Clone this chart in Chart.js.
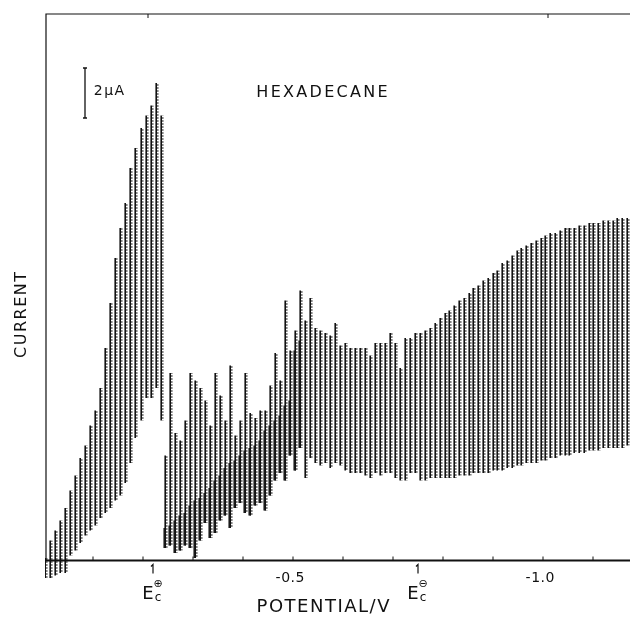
<!DOCTYPE html>
<html>
<head>
<meta charset="utf-8">
<script src="https://cdn.jsdelivr.net/npm/chart.js@4.4.1/dist/chart.umd.min.js"></script>
<style>
  html, body { margin: 0; padding: 0; background: #fff; }
  #wrap { width: 630px; height: 617px; position: relative; }
</style>
</head>
<body>
<div id="wrap"><canvas id="polarogram"></canvas></div>
<script>
// potential at each mercury drop (V)
const potentials = [
  -0.006, -0.016, -0.026, -0.036, -0.046, -0.056, -0.066, -0.076, -0.086, -0.096,
  -0.106, -0.116, -0.126, -0.136, -0.146, -0.156, -0.166, -0.176, -0.186, -0.198,
  -0.208, -0.218, -0.228, -0.238,
  -0.246, -0.256, -0.266, -0.276, -0.286, -0.296, -0.306, -0.316, -0.326, -0.336,
  -0.346, -0.356, -0.366, -0.376, -0.386, -0.396, -0.406, -0.416, -0.426, -0.436,
  -0.446, -0.456, -0.466, -0.476, -0.486, -0.496, -0.506, -0.516, -0.526, -0.536,
  -0.546, -0.556, -0.566, -0.576, -0.586, -0.596, -0.606, -0.616, -0.626, -0.636,
  -0.646, -0.656, -0.666, -0.676, -0.686, -0.696, -0.706, -0.716, -0.726, -0.736,
  -0.746,
  -0.756, -0.766, -0.776, -0.786, -0.796, -0.806, -0.814, -0.824, -0.834, -0.844,
  -0.854, -0.862, -0.872, -0.882, -0.892, -0.902, -0.910, -0.920, -0.930, -0.940,
  -0.950, -0.958, -0.968, -0.978, -0.988, -0.998, -1.006, -1.016, -1.026, -1.036,
  -1.046, -1.054, -1.064, -1.074, -1.084, -1.094, -1.102, -1.112, -1.122, -1.132,
  -1.142, -1.150, -1.160, -1.170
];

// lowest current of each drop oscillation (µA)
const currentLow = [
  -0.7, -0.7, -0.6, -0.5, -0.5, 0.2, 0.4, 0.7, 1.0, 1.2,
  1.4, 1.7, 1.9, 2.1, 2.4, 2.6, 3.1, 3.9, 4.9, 5.6,
  6.5, 6.5, 6.9, 5.6,
  0.5, 0.6, 0.3, 0.4, 0.6, 0.5, 0.1, 0.8, 1.5, 0.9,
  1.1, 1.6, 1.8, 1.3, 2.1, 2.3, 1.9, 1.8, 2.2, 2.3,
  2.0, 2.6, 3.2, 3.5, 3.2, 4.2, 3.6, 4.5, 3.3, 4.1,
  3.9, 3.8, 3.9, 3.7, 3.9, 3.8, 3.6, 3.5, 3.5, 3.5,
  3.4, 3.3, 3.5, 3.4, 3.5, 3.5, 3.3, 3.2, 3.2, 3.5,
  3.5,
  3.2, 3.2, 3.3, 3.3, 3.3, 3.3, 3.3, 3.3, 3.4, 3.4,
  3.4, 3.5, 3.5, 3.5, 3.5, 3.6, 3.6, 3.6, 3.7, 3.7,
  3.8, 3.8, 3.9, 3.9, 3.9, 4.0, 4.0, 4.1, 4.1, 4.2,
  4.2, 4.2, 4.3, 4.3, 4.3, 4.4, 4.4, 4.4, 4.5, 4.5,
  4.5, 4.5, 4.5, 4.6
];

// highest current of each drop oscillation (µA)
const currentHigh = [
  0.1, 0.8, 1.2, 1.6, 2.1, 2.8, 3.4, 4.1, 4.6, 5.4,
  6.0, 6.9, 8.5, 10.3, 12.1, 13.3, 14.3, 15.7, 16.5, 17.3,
  17.8, 18.2, 19.1, 17.8,
  4.2, 7.5, 5.1, 4.8, 5.6, 7.5, 7.2, 6.9, 6.4, 5.4,
  7.5, 6.6, 5.6, 7.8, 5.0, 5.6, 7.5, 5.9, 5.7, 6.0,
  6.0, 7.0, 8.3, 7.2, 10.4, 8.4, 9.2, 10.8, 9.6, 10.5,
  9.3, 9.2, 9.1, 9.0, 9.5, 8.6, 8.7, 8.5, 8.5, 8.5,
  8.5, 8.2, 8.7, 8.7, 8.7, 9.1, 8.7, 7.7, 8.9, 8.9,
  9.1,
  9.1, 9.2, 9.3, 9.5, 9.7, 9.9, 10.0, 10.2, 10.4, 10.5,
  10.7, 10.9, 11.0, 11.2, 11.3, 11.5, 11.6, 11.9, 12.0, 12.2,
  12.4, 12.5, 12.6, 12.7, 12.8, 12.9, 13.0, 13.1, 13.1, 13.2,
  13.3, 13.3, 13.3, 13.4, 13.4, 13.5, 13.5, 13.5, 13.6, 13.6,
  13.6, 13.7, 13.7, 13.7
];

// top of the noisy, heavily inked part of the drops between E_c+ and -0.52 V (µA)
const noisyPotentials = [
  -0.246, -0.256, -0.266, -0.276, -0.286, -0.296, -0.306, -0.316, -0.326, -0.336,
  -0.346, -0.356, -0.366, -0.376, -0.386, -0.396, -0.406, -0.416, -0.426, -0.436,
  -0.446, -0.456, -0.466, -0.476, -0.486, -0.496, -0.506, -0.516
];
const noisyTop = [
  1.3, 1.4, 1.6, 1.8, 1.9, 2.2, 2.4, 2.5, 2.7, 2.9,
  3.2, 3.4, 3.7, 3.9, 4.0, 4.2, 4.4, 4.5, 4.6, 4.8,
  5.2, 5.4, 5.6, 5.8, 6.2, 6.4, 8.4, 8.8
];

// potential axis: small ticks every 0.1 V, only two of them labelled
const tickPotentials = [-0.1, -0.2, -0.3, -0.4, -0.5, -0.6, -0.7, -0.8, -0.9, -1.0, -1.1];
const labelPotentials = [-0.5, -1.0];
const labelTexts = ['-0.5', '-1.0'];
const topTickPotentials = [-0.21, -1.01];

// electrocapillary potentials marked under the axis
const ecPotentials = [-0.22, -0.75];
const ecSigns = ['\u2295', '\u2296'];

// 2 µA calibration bar
const scaleBarPotential = -0.084;
const scaleBarTop = 19.7;
const scaleBarSize = 2;

const FONT = "'DejaVu Sans', sans-serif";

function drawText(ctx, text, cx, cy, size, spacing) {
    ctx.font = size + 'px ' + FONT;
    ctx.letterSpacing = spacing + 'px';
    const w = ctx.measureText(text).width - spacing;
    ctx.fillText(text, cx - w / 2, cy);
}

// dotted grey fill for the fast (faint) pen strokes
function dottedPattern() {
    const c = document.createElement('canvas');
    c.width = 2;
    c.height = 3;
    const g = c.getContext('2d');
    g.fillStyle = 'rgba(0, 0, 0, 0.5)';
    g.fillRect(0, 0, 2, 2);
    return g.createPattern(c, 'repeat');
}

// axes, ticks and lettering drawn on top of the drop traces
const framePlugin = {
    id: 'frame',
    afterDatasetsDraw(chart) {
        const { ctx, chartArea, scales: { x, y } } = chart;
        const y0 = y.getPixelForValue(0);
        const left = chartArea.left + 1;

        ctx.save();
        ctx.strokeStyle = '#111';
        ctx.fillStyle = '#111';
        ctx.textBaseline = 'middle';
        ctx.textAlign = 'left';

        // left and top border
        ctx.lineWidth = 1.2;
        ctx.beginPath();
        ctx.moveTo(left, y0);
        ctx.lineTo(left, chartArea.top);
        ctx.lineTo(chartArea.right, chartArea.top);
        ctx.stroke();

        // potential axis
        ctx.lineWidth = 2;
        ctx.beginPath();
        ctx.moveTo(left, y0);
        ctx.lineTo(chartArea.right, y0);
        ctx.stroke();

        ctx.lineWidth = 1;
        tickPotentials.forEach(p => {
            const px = x.getPixelForValue(p);
            ctx.beginPath();
            ctx.moveTo(px, y0);
            ctx.lineTo(px, y0 - 4);
            ctx.stroke();
        });
        topTickPotentials.forEach(p => {
            const px = x.getPixelForValue(p);
            ctx.beginPath();
            ctx.moveTo(px, chartArea.top);
            ctx.lineTo(px, chartArea.top + 4);
            ctx.stroke();
        });
        labelPotentials.forEach((p, i) => {
            drawText(ctx, labelTexts[i], x.getPixelForValue(p) - 3, y0 + 18, 14, 0.5);
        });

        // E_c markers
        ecPotentials.forEach((p, i) => {
            const px = x.getPixelForValue(p);
            ctx.lineWidth = 1.2;
            ctx.beginPath();
            ctx.moveTo(px - 2, y0 + 6);
            ctx.lineTo(px, y0 + 4);
            ctx.lineTo(px, y0 + 13);
            ctx.stroke();
            drawText(ctx, 'E', px - 5, y0 + 34, 18, 0);
            drawText(ctx, ecSigns[i], px + 5, y0 + 24, 11, 0);
            drawText(ctx, 'c', px + 5, y0 + 37, 12, 0);
        });

        // calibration bar
        const bx = x.getPixelForValue(scaleBarPotential);
        const bt = y.getPixelForValue(scaleBarTop);
        const bb = y.getPixelForValue(scaleBarTop - scaleBarSize);
        ctx.lineWidth = 1.3;
        ctx.beginPath();
        ctx.moveTo(bx, bt); ctx.lineTo(bx, bb);
        ctx.moveTo(bx - 2, bt); ctx.lineTo(bx + 2, bt);
        ctx.moveTo(bx - 2, bb); ctx.lineTo(bx + 2, bb);
        ctx.stroke();
        drawText(ctx, '2\u00b5A', bx + 24, bt + 23, 14, 1.5);

        drawText(ctx, 'HEXADECANE', 322, 93, 16, 2.3);
        drawText(ctx, 'POTENTIAL/V', 323, 607, 18, 1.5);

        ctx.translate(22, 315);
        ctx.rotate(-Math.PI / 2);
        drawText(ctx, 'CURRENT', 0, 0, 16, 1.5);
        ctx.restore();
    }
};

document.addEventListener('DOMContentLoaded', () => {
    const drops = potentials.map((p, i) => ({ x: p, y: [currentLow[i], currentHigh[i]] }));
    const noisy = noisyPotentials.map((p, i) => ({
        x: p,
        y: [currentLow[potentials.indexOf(p)], noisyTop[i]]
    }));

    new Chart(document.getElementById('polarogram').getContext('2d'), {
        type: 'bar',
        data: {
            datasets: [{
                label: 'drop current',
                data: drops,
                stack: 'pen',
                backgroundColor: '#111',
                borderWidth: 0,
                inflateAmount: 0,
                barThickness: 1.6
            }, {
                label: 'noise',
                data: noisy,
                stack: 'pen',
                backgroundColor: 'rgba(17, 17, 17, 0.9)',
                borderWidth: 0,
                inflateAmount: 0,
                barThickness: 2.6
            }, {
                // the faint return stroke next to every drop
                label: 'return stroke',
                data: drops,
                stack: 'return',
                backgroundColor: dottedPattern(),
                borderWidth: 0,
                inflateAmount: 0,
                barThickness: 1.6
            }]
        },
        options: {
            responsive: true,
            maintainAspectRatio: false,
            animation: false,
            layout: { padding: { left: 45, right: 0, top: 14, bottom: 31.5 } },
            plugins: {
                legend: { display: false },
                tooltip: { enabled: false }
            },
            scales: {
                x: {
                    type: 'linear',
                    reverse: true,
                    offset: false,
                    min: -1.174,
                    max: -0.004,
                    display: false
                },
                y: {
                    stacked: false,
                    min: -1,
                    max: 21.86,
                    display: false
                }
            }
        },
        plugins: [framePlugin]
    });
});
</script>
</body>
</html>
